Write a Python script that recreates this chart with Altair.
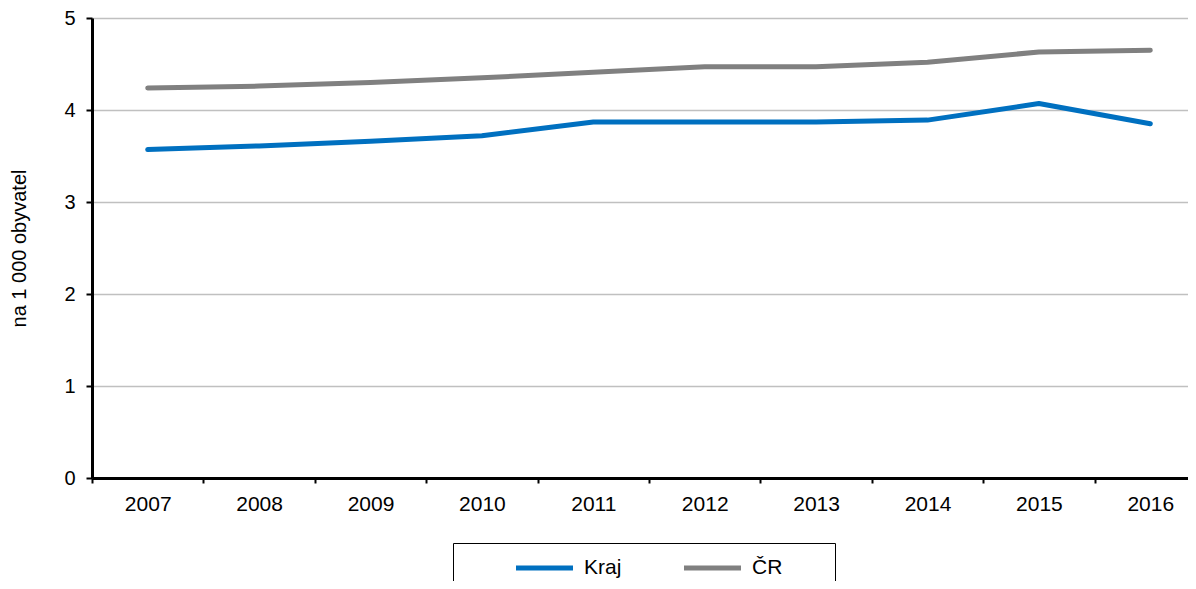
import altair as alt
import pandas as pd

years = ["2007", "2008", "2009", "2010", "2011", "2012", "2013", "2014", "2015", "2016"]
kraj = [3.57, 3.61, 3.66, 3.72, 3.87, 3.87, 3.87, 3.89, 4.07, 3.85]
cr = [4.24, 4.26, 4.30, 4.35, 4.41, 4.47, 4.47, 4.52, 4.63, 4.65]
series_names = ["Kraj", "ČR"]
series_colors = ["#0070C0", "#808080"]

rows = []
for i, y in enumerate(years):
    rows.append({"rok": y, "serie": series_names[0], "hodnota": kraj[i]})
    rows.append({"rok": y, "serie": series_names[1], "hodnota": cr[i]})
df = pd.DataFrame(rows)

FONT = "Liberation Sans"
PAD = "\u00a0" * 7 + "\u200b"
SYM = "M-2.478,0H2.478"

chart = alt.Chart(df).mark_line(strokeWidth=5, strokeCap="round", strokeJoin="round").encode(
    x=alt.X("rok:O", bandPosition=0.5,
            scale=alt.Scale(type="band", paddingInner=0, paddingOuter=0),
            axis=alt.Axis(title=None, labelAngle=0, tickBand="extent", labelFontSize=21,
                          labelPadding=10, tickSize=5, tickWidth=2, domainWidth=3,
                          labelColor="black", tickColor="black", domainColor="black",
                          grid=False, labelFont=FONT)),
    y=alt.Y("hodnota:Q", scale=alt.Scale(domain=[0, 5], nice=False),
            axis=alt.Axis(title="na 1 000 obyvatel", values=[0, 1, 2, 3, 4, 5], tickSize=6,
                          tickWidth=2, domainWidth=3, labelFontSize=20, labelPadding=11,
                          titleFontSize=20, titleFontWeight="normal", titlePadding=34,
                          labelColor="black", titleColor="black", tickColor="black",
                          domainColor="black", grid=True, gridColor="#c0c0c0", gridWidth=1.5,
                          labelFont=FONT, titleFont=FONT)),
    color=alt.Color("serie:N", sort=series_names,
                    scale=alt.Scale(domain=series_names, range=series_colors),
                    legend=alt.Legend(orient="none", legendX=361, legendY=525, direction="horizontal",
                                      title=" ", titleOrient="left", titlePadding=52,
                                      symbolType=SYM, symbolSize=529, symbolStrokeWidth=5,
                                      symbolOffset=14.5,
                                      labelFontSize=21, labelFont=FONT, labelColor="black",
                                      labelOffset=25.5, columnPadding=11, padding=11,
                                      strokeColor="black", labelLimit=300,
                                      labelExpr="datum.label + '" + PAD + "'")),
).properties(
    width=1114, height=460,
    autosize=alt.AutoSizeParams(type="none"),
    padding={"left": 84, "top": 10, "right": -18, "bottom": 103},
).configure_view(stroke="black", strokeWidth=2).configure(font=FONT)

chart.save("out.html", embed_options={"renderer": "svg", "actions": False})
